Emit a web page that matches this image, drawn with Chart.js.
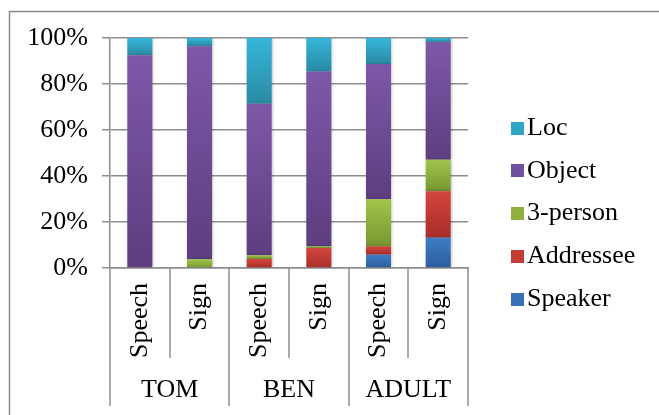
<!DOCTYPE html>
<html>
<head>
<meta charset="utf-8">
<script src="https://cdn.jsdelivr.net/npm/chart.js@4.4.0/dist/chart.umd.min.js"></script>
<style>
	html, body { margin: 0; padding: 0; background: #fff; }
	canvas { display: block; }
</style>
</head>
<body>
<canvas id="myChart" width="659" height="415"></canvas>
<script>
// data (percent of each bar, bottom to top)
var categories = ['Speech', 'Sign', 'Speech', 'Sign', 'Speech', 'Sign'];
var groups = ['TOM', 'BEN', 'ADULT'];
var yTicks = [0, 20, 40, 60, 80, 100];
var seriesNames = ['Speaker', 'Addressee', '3-person', 'Object', 'Loc'];

var speaker   = [0,    0,    0,    0,    5.8,  13.2];
var addressee = [0,    0,    3.9,  8.7,  3.6,  20.2];
var person3   = [0,    3.8,  1.6,  0.7,  20.5, 13.7];
var object    = [92.5, 92.6, 65.9, 76.0, 58.8, 51.2];
var loc       = [7.5,  3.6,  28.6, 14.6, 11.3, 1.7];

var seriesValues = [speaker, addressee, person3, object, loc];

// colours: [light top, dark bottom, legend]
var seriesColors = [
	['#3f7dc6', '#2c5d9c', '#3a70b6'],
	['#d4453d', '#a82e2a', '#c33d37'],
	['#a0c54a', '#77972f', '#8fb040'],
	['#7e58a8', '#5d3e7f', '#7050a0'],
	['#35b6da', '#2a8aa4', '#30a4c4']
];

var gridColor = '#8e8e8e';
var fontFam = '"Liberation Serif", "Times New Roman", serif';
var perGroup = 2;

//gradient helper for each stacked segment
function segmentFill(si){
	return function(c){
		var col = seriesColors[si];
		if(c.type !== 'data') return col[2];
		var y = c.chart.scales.y;
		if(!y) return col[2];
		var start = 0;
		for(var k = 0; k < si; k++) start += seriesValues[k][c.dataIndex];
		var end = start + seriesValues[si][c.dataIndex];
		var y0 = y.getPixelForValue(end);
		var y1 = y.getPixelForValue(start);
		if(!isFinite(y0) || !isFinite(y1) || y0 === y1) return col[2];
		var g = c.chart.ctx.createLinearGradient(0, y0, 0, y1);
		g.addColorStop(0, col[0]);
		g.addColorStop(1, col[1]);
		return g;
	};
}

var datasets = [];
seriesNames.forEach(function(name, i){
	datasets.push({
		label: name,
		data: seriesValues[i],
		backgroundColor: segmentFill(i),
		borderWidth: 0,
		barPercentage: 0.42,
		categoryPercentage: 1
	});
});

//outer frame
var framePlugin = {
	id: 'frame',
	beforeDraw: function(chart){
		var ctx = chart.ctx;
		ctx.save();
		ctx.strokeStyle = '#8a8a8a';
		ctx.lineWidth = 1.5;
		ctx.strokeRect(9.5, 11.5, 700, 500);
		ctx.restore();
	}
};

//soft shadow on bars
var shadowPlugin = {
	id: 'shadow',
	beforeDatasetsDraw: function(chart){
		var ctx = chart.ctx;
		ctx.save();
		ctx.shadowColor = 'rgba(0,0,0,0.3)';
		ctx.shadowBlur = 3;
		ctx.shadowOffsetX = 1;
		ctx.shadowOffsetY = 0;
	},
	afterDatasetsDraw: function(chart){
		chart.ctx.restore();
	}
};

//two level category axis: separators and group names
var groupAxisPlugin = {
	id: 'groupAxis',
	afterDraw: function(chart){
		var x = chart.scales.x;
		var ctx = chart.ctx;
		var top = chart.chartArea.bottom;
		var step = (x.right - x.left) / categories.length;
		ctx.save();
		ctx.strokeStyle = gridColor;
		ctx.lineWidth = 1.5;
		for(var i = 0; i <= categories.length; i++){
			var px = Math.round(x.left + i * step);
			var bottom = (i % perGroup === 0) ? 406 : 358;
			ctx.beginPath();
			ctx.moveTo(px, top);
			ctx.lineTo(px, bottom);
			ctx.stroke();
		}
		ctx.fillStyle = '#000';
		ctx.font = '26px ' + fontFam;
		ctx.textAlign = 'center';
		ctx.textBaseline = 'alphabetic';
		groups.forEach(function(g, k){
			var l = x.left + k * perGroup * step;
			ctx.fillText(g, l + perGroup * step / 2, 397);
		});
		ctx.restore();
	}
};

//legend on the right, top item is the top segment
var legendPlugin = {
	id: 'sideLegend',
	afterDraw: function(chart){
		var ctx = chart.ctx;
		ctx.save();
		ctx.font = '26px ' + fontFam;
		ctx.textBaseline = 'middle';
		ctx.textAlign = 'left';
		for(var n = 0; n < seriesNames.length; n++){
			var si = seriesNames.length - 1 - n;
			var cy = 128 + n * 42.75;
			ctx.fillStyle = seriesColors[si][2];
			ctx.fillRect(511, Math.round(cy - 6.5), 13, 13);
			ctx.fillStyle = '#000';
			ctx.fillText(seriesNames[si], 527, cy);
		}
		ctx.restore();
	}
};

Chart.defaults.font.family = fontFam;
Chart.defaults.font.size = 26;
Chart.defaults.color = '#000';

var ctx = document.getElementById('myChart');
var myChart = new Chart(ctx, {
	type: 'bar',
	data: {
		labels: categories,
		datasets: datasets
	},
	options: {
		responsive: false,
		animation: false,
		layout: {
			padding: { top: 38, bottom: 25, left: 0, right: 191 }
		},
		plugins: {
			legend: { display: false },
			tooltip: { enabled: false }
		},
		scales: {
			x: {
				stacked: true,
				offset: true,
				grid: { display: false, drawTicks: false },
				border: { display: true, color: gridColor, width: 1.5 },
				ticks: {
					autoSkip: false,
					minRotation: 90,
					maxRotation: 90,
					padding: 15,
					font: { size: 26 }
				},
				afterFit: function(scale){ scale.height = 122; }
			},
			y: {
				stacked: true,
				min: 0,
				max: 100,
				grid: { color: gridColor, lineWidth: 1.5, tickLength: 8 },
				border: { display: true, color: gridColor, width: 1.5 },
				ticks: {
					padding: 14,
					font: { size: 26 },
					callback: function(v){ return v + '%'; }
				},
				afterBuildTicks: function(scale){
					scale.ticks = yTicks.map(function(v){ return { value: v }; });
				},
				afterFit: function(scale){ scale.width = 110; }
			}
		}
	},
	plugins: [framePlugin, shadowPlugin, groupAxisPlugin, legendPlugin]
});
</script>
</body>
</html>
